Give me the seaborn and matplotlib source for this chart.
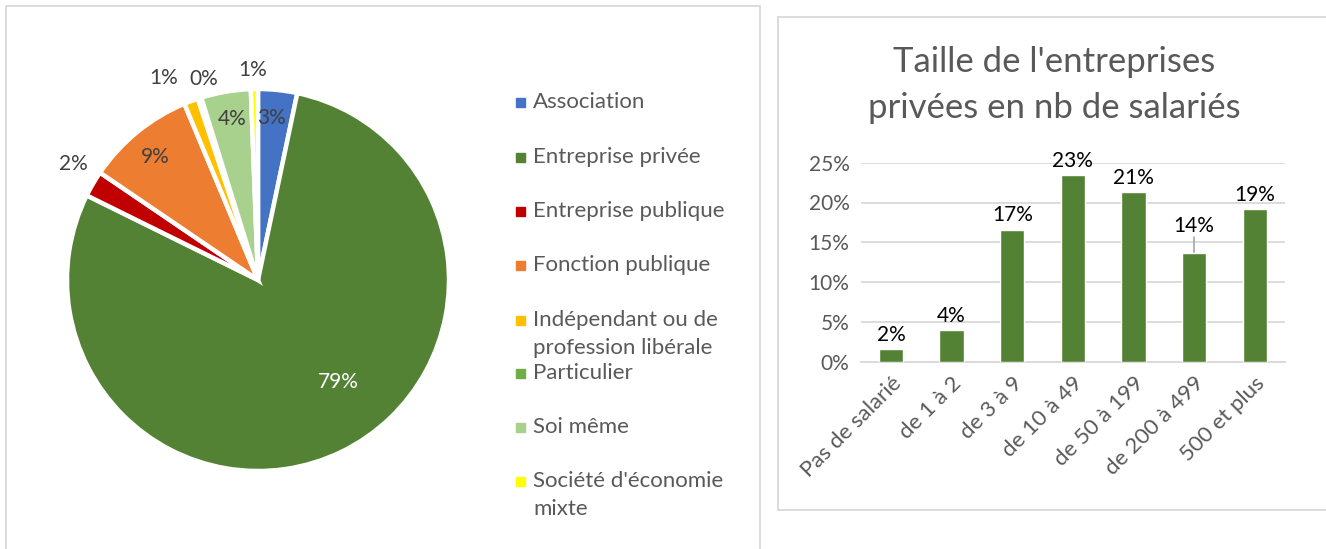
import matplotlib
matplotlib.use("Agg")
import matplotlib.pyplot as plt
import seaborn as sns
import numpy as np
from matplotlib.lines import Line2D
from matplotlib.patches import Rectangle

# ---------------- data ----------------
pie_labels = ["Association", "Entreprise privée", "Entreprise publique",
              "Fonction publique", "Indépendant ou de\nprofession libérale",
              "Particulier", "Soi même", "Société d'économie\nmixte"]
pie_values = [3.3, 79.0, 2.2, 9.2, 1.2, 0.3, 4.2, 0.6]
pie_colors = ["#4472C4", "#548235", "#C00000", "#ED7D31", "#FFC000",
              "#70AD47", "#A9D18E", "#FFFF00"]

bar_categories = ["Pas de salarié", "de 1 à 2", "de 3 à 9", "de 10 à 49",
                  "de 50 à 199", "de 200 à 499", "500 et plus"]
bar_values = [1.6, 4.0, 16.6, 23.4, 21.3, 13.6, 19.2]
bar_title = "Taille de l'entreprises\nprivées en nb de salariés"
y_ticks = [0, 5, 10, 15, 20, 25]

# ---------------- style ----------------
sns.set_theme(style="white")
plt.rcParams["font.family"] = ["Lato", "DejaVu Sans"]
TXT = "#595959"
LBL = "#404040"
GRID = "#D9D9D9"
FS = 15

W, H = 1326, 549
fig = plt.figure(figsize=(W / 100, H / 100), dpi=100)


def fx(px):
    return px / W


def fy(py):
    return 1 - py / H


# panel frames
frame_kw = dict(color=GRID, lw=1.3, transform=fig.transFigure)
fig.add_artist(Line2D([fx(5.5), fx(5.5)], [fy(5.5), fy(549)], **frame_kw))
fig.add_artist(Line2D([fx(5.5), fx(760)], [fy(5.5), fy(5.5)], **frame_kw))
fig.add_artist(Line2D([fx(760), fx(760)], [fy(5.5), fy(549)], **frame_kw))
fig.add_artist(Line2D([fx(778), fx(778)], [fy(17), fy(510)], **frame_kw))
fig.add_artist(Line2D([fx(778), fx(1326)], [fy(17), fy(17)], **frame_kw))
fig.add_artist(Line2D([fx(778), fx(1326)], [fy(510), fy(510)], **frame_kw))

# ---------------- pie ----------------
cx, cy, R = 258, 280, 191
k = 1.3
side = 2 * k * R
axp = fig.add_axes([fx(cx - side / 2), fy(cy + side / 2), side / W, side / H])
wedges, _ = axp.pie(pie_values, colors=pie_colors, startangle=90,
                    counterclock=False, radius=1,
                    wedgeprops=dict(edgecolor="white", linewidth=3.2))
axp.set_xlim(-k, k)
axp.set_ylim(-k, k)
axp.set_aspect("equal")
axp.axis("off")

# label placement style: (radius, angle offset in degrees clockwise, color)
label_style = [(0.85, -1, LBL), (0.68, -12, "white"), (1.14, 2, LBL),
               (0.84, -0.5, LBL), (1.17, -4.5, LBL), (1.09, 2.6, LBL),
               (0.855, 0.5, LBL), (1.10, -0.5, LBL)]
total = sum(pie_values)
cum = 0
for v, (r, off, col) in zip(pie_values, label_style):
    mid = (cum + v / 2) / total * 360 + off
    cum += v
    ang = np.deg2rad(90 - mid)
    axp.text(r * np.cos(ang), r * np.sin(ang), f"{round(v)}%",
             ha="center", va="center", fontsize=FS, color=col)

# legend (manual)
leg_y = [102, 157, 211, 265, 320, 373, 427, 481]
for lab, col, yy in zip(pie_labels, pie_colors, leg_y):
    fig.add_artist(Rectangle((fx(516), fy(yy + 5)), 9 / W, 9 / H,
                             color=col, transform=fig.transFigure))
    for i, line in enumerate(lab.split("\n")):
        fig.text(fx(533), fy(yy + i * 28), line, ha="left", va="center",
                 fontsize=16, color=TXT)

# ---------------- bar ----------------
x0, x1 = 860.7, 1285
y0, y1 = 361.7, 162.7
axb = fig.add_axes([fx(x0), fy(y0), (x1 - x0) / W, (y0 - y1) / H])
sns.barplot(x=bar_categories, y=bar_values, color="#548235", saturation=1,
            width=0.4, ax=axb, zorder=3)
axb.set_ylim(0, 25)
axb.set_xlim(-0.5, len(bar_categories) - 0.5)
axb.set_yticks(y_ticks)
axb.set_yticklabels([f"{t}%" for t in y_ticks], fontsize=FS, color=TXT)
axb.set_xticks(range(len(bar_categories)))
axb.set_xticklabels(bar_categories, rotation=45, ha="right",
                    rotation_mode="anchor", fontsize=16, color=TXT)
axb.tick_params(axis="both", length=0)
axb.tick_params(axis="x", pad=8)
axb.tick_params(axis="y", pad=8)
axb.grid(axis="y", color=GRID, lw=1.3, zorder=0)
axb.set_axisbelow(True)
for s in ["top", "right", "left"]:
    axb.spines[s].set_visible(False)
axb.spines["bottom"].set_color(GRID)
axb.spines["bottom"].set_linewidth(1.3)
axb.set_xlabel("")
axb.set_ylabel("")

label_offsets = [1.8, 1.8, 1.8, 1.8, 1.8, 3.4, 1.8]
for i, (v, off) in enumerate(zip(bar_values, label_offsets)):
    axb.text(i, v + off, f"{round(v)}%", ha="center", va="center",
             fontsize=FS, color="#000000")
    if off > 2:
        axb.plot([i, i], [v, v + off - 1.3], color="#A6A6A6", lw=1.2, zorder=2)

fig.text(fx(1054), fy(85), bar_title, ha="center", va="center",
         fontsize=25, color=TXT, linespacing=1.55)

fig.savefig("out.png", dpi=100, facecolor="white")
